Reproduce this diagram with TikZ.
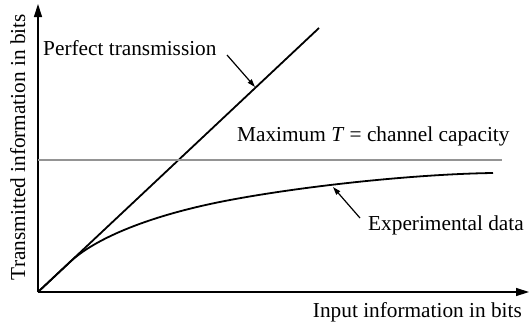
\documentclass[tikz,border=0pt]{standalone}
\usepackage{fontspec}
\setmainfont{Liberation Serif}
\usetikzlibrary{arrows.meta}
\begin{document}
\begin{tikzpicture}[x=1pt,y=-1pt,
  font=\fontsize{21.3}{25}\selectfont,
  axis/.style={line width=1.4pt,-{Triangle[length=13pt,width=8pt]}},
  curve/.style={line width=1.8pt},
  capline/.style={line width=1.8pt,draw=black!42},
  pointer/.style={line width=1.2pt,-{Triangle[length=8pt,width=5pt]}},
  lbl/.style={inner sep=0pt}]
\useasboundingbox (0,0) rectangle (530,327);
\coordinate (O) at (38,292);
\coordinate (ytop) at (38,4);
\coordinate (xend) at (529,292);
\draw[axis] (O) -- (ytop);
\draw[axis] (O) -- (xend);
\coordinate (P) at (319,28);
\draw[curve] (O) -- (P);
\coordinate (capL) at (38,160);
\coordinate (capR) at (502,160);
\draw[capline] (capL) -- (capR);
\coordinate (c1) at (70,262);
\coordinate (c2) at (230,200);
\coordinate (cend) at (493,173);
\draw[curve,line join=round] (O) -- (c1) .. controls (95,238.5) and (150,215) .. (c2) .. controls (310,185) and (420,174) .. (cend);
\node[lbl,anchor=base west] (pt) at (43,55) {Perfect transmission};
\node[lbl,anchor=base west] (mx) at (237,141) {Maximum \textit{T} = channel capacity};
\node[lbl,anchor=base west] (ed) at (368,230) {Experimental data};
\node[lbl,anchor=base east] (xl) at (522,317) {Input information in bits};
\node[lbl,rotate=90,anchor=base] (yl) at (25,147) {Transmitted information in bits};
\coordinate (pa) at (227,55);
\coordinate (pb) at (255,87);
\draw[pointer] (pa) -- (pb);
\coordinate (ea) at (360,218);
\coordinate (eb) at (333,187);
\draw[pointer] (ea) -- (eb);
\end{tikzpicture}
\end{document}
